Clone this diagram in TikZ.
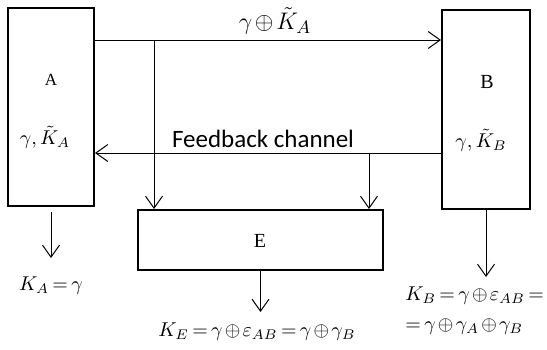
\documentclass[tikz,border=0pt]{standalone}
\usepackage{fontspec}
\setmainfont{Liberation Serif}
\newfontfamily\fbfont{Carlito}
\usetikzlibrary{arrows.meta}
\thickmuskip=3mu plus 1mu\relax
\medmuskip=2mu plus 1mu\relax

\begin{document}
\begin{tikzpicture}[x=0.5pt,y=-0.5pt,
  box/.style={rectangle,draw,line width=1pt,inner sep=0pt},
  ar/.style={-{Straight Barb[length=6pt,width=8.5pt]},line width=0.5pt},
  lbl/.style={inner sep=1pt,font=\fontsize{10}{12}\selectfont},
  eq/.style={inner sep=1pt,font=\fontsize{10}{12}\selectfont}]
  \useasboundingbox (0,0) rectangle (547,349);
  % parties
  \node[box,minimum width=43pt,minimum height=99pt] (A) at (51,107) {};
  \node[box,minimum width=44pt,minimum height=99.5pt] (B) at (486,109.5) {};
  \node[box,minimum width=122.5pt,minimum height=30pt] (E) at (260.5,240) {};
  \node[lbl,font=\fontsize{8.5}{10}\selectfont] (labA) at (51,80) {A};
  \node[lbl] (keyA) at (45,137) {$\gamma,\tilde{K}_A$};
  \node[lbl] (labB) at (487,82) {B};
  \node[lbl] (keyB) at (481,140) {$\gamma,\tilde{K}_B$};
  \node[lbl] (labE) at (260,241) {E};
  % channels
  \coordinate (top) at (0,40);
  \coordinate (fb) at (0,153);
  \coordinate (tapA) at (154,40);
  \coordinate (tapB) at (369,153);
  \draw[ar] (A.east |- top) -- (B.west |- top);
  \draw[ar] (B.west |- fb) -- (A.east |- fb);
  \draw[ar] (tapA) -- (E.north -| tapA);
  \draw[ar] (tapB) -- (E.north -| tapB);
  \node[eq,font=\fontsize{12.5}{14}\selectfont] (msg) at (275,21) {$\gamma\oplus\tilde{K}_A$};
  \node[inner sep=1pt,font=\fbfont\fontsize{12.5}{14}\selectfont] (fbl) at (263,139) {Feedback channel};
  % keys
  \coordinate (tipA) at (51,258);
  \coordinate (tipE) at (260.5,312);
  \coordinate (tipB) at (486,277);
  \draw[ar] ([yshift=-2.5pt]A.south) -- (tipA);
  \draw[ar] (E.south) -- (tipE);
  \draw[ar] (B.south) -- (tipB);
  \node[eq] (KA) at (51,286) {$K_A=\gamma$};
  \node[eq] (KE) at (257,332) {$K_E=\gamma\oplus\varepsilon_{AB}=\gamma\oplus\gamma_B$};
  \node[eq,anchor=west] (KB) at (403,296) {$K_B=\gamma\oplus\varepsilon_{AB}=$};
  \node[eq,anchor=west] (KB2) at (403,327) {$=\gamma\oplus\gamma_A\oplus\gamma_B$};
\end{tikzpicture}
\end{document}
